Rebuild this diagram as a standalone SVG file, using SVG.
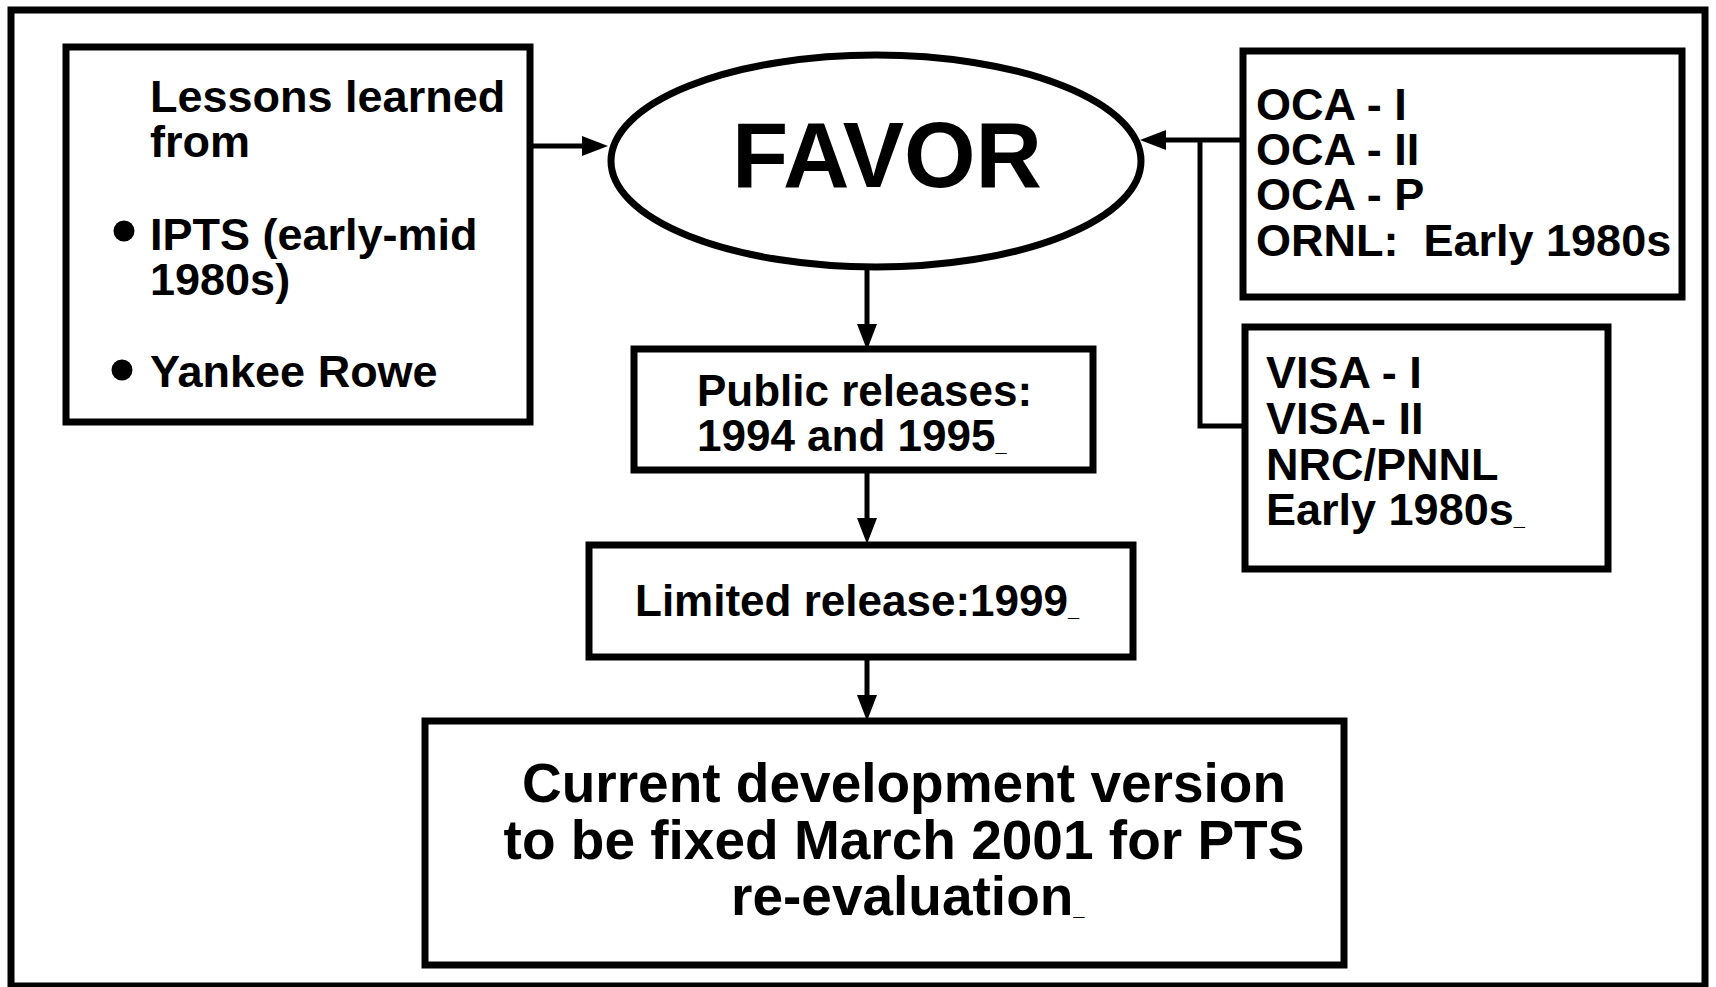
<svg xmlns="http://www.w3.org/2000/svg" width="1716" height="987" viewBox="0 0 1716 987">
<style>
.box{fill:none;stroke:#000;stroke-width:7}
.t{font-family:"Liberation Sans",Arial,Helvetica,sans-serif;font-weight:bold;fill:#000}
.m{font-size:45px}
.c{font-size:44px}
.b{font-size:55px}
.u{font-size:20px}
.con{fill:none;stroke:#000;stroke-width:5}
</style>
<defs>
<marker id="ah" viewBox="0 0 26 20" markerWidth="26" markerHeight="20" refX="13" refY="10" orient="auto" markerUnits="userSpaceOnUse">
<path d="M0,0 L26,10 L0,20 Z" fill="#000"/>
</marker>
</defs>
<rect width="1716" height="987" fill="#fff"/>
<rect x="11" y="10" width="1694" height="976" fill="none" stroke="#000" stroke-width="7"/>

<g id="lessons">
<rect class="box" x="66" y="47" width="464" height="375"/>
<text class="t m" x="150" y="112">Lessons learned</text>
<text class="t m" x="150" y="157">from</text>
<circle cx="124" cy="231" r="10.5"/>
<text class="t m" x="150" y="250">IPTS (early-mid</text>
<text class="t m" x="150" y="295">1980s)</text>
<circle cx="122" cy="370" r="10.5"/>
<text class="t m" x="150" y="387">Yankee Rowe</text>
</g>

<g id="favor">
<ellipse cx="876" cy="161" rx="265" ry="106" fill="none" stroke="#000" stroke-width="7"/>
<text class="t" x="887" y="187" font-size="92" text-anchor="middle">FAVOR</text>
</g>

<g id="public">
<rect class="box" x="634" y="349" width="459" height="121"/>
<text class="t c" x="697" y="406">Public releases:</text>
<text class="t c" x="697" y="451">1994 and 1995<tspan class="u">_</tspan></text>
</g>

<g id="limited">
<rect class="box" x="589" y="545" width="544" height="112"/>
<text class="t c" x="635" y="616">Limited release:1999<tspan class="u">_</tspan></text>
</g>

<g id="current">
<rect class="box" x="425" y="721" width="919" height="244"/>
<text class="t b" x="904" y="802" text-anchor="middle">Current development version</text>
<text class="t b" x="904" y="859" text-anchor="middle">to be fixed March 2001 for PTS</text>
<text class="t b" x="731" y="915">re-evaluation<tspan class="u">_</tspan></text>
</g>

<g id="oca">
<rect class="box" x="1243" y="51" width="439" height="246"/>
<text class="t m" x="1256" y="120">OCA - I</text>
<text class="t m" x="1256" y="165">OCA - II</text>
<text class="t m" x="1256" y="210">OCA - P</text>
<text class="t m" x="1256" y="256" xml:space="preserve">ORNL:  Early 1980s</text>
</g>

<g id="visa">
<rect class="box" x="1245" y="327" width="363" height="242"/>
<text class="t m" x="1266" y="388">VISA - I</text>
<text class="t m" x="1266" y="434">VISA- II</text>
<text class="t m" x="1266" y="480">NRC/PNNL</text>
<text class="t m" x="1266" y="525">Early 1980s<tspan class="u">_</tspan></text>
</g>

<g id="connectors">
<path class="con" d="M533,146 L595,146" marker-end="url(#ah)"/>
<path class="con" d="M1242,140 L1153,140" marker-end="url(#ah)"/>
<path class="con" d="M1245,426 L1200,426 L1200,140"/>
<path class="con" d="M867,270 L867,337" marker-end="url(#ah)"/>
<path class="con" d="M867,472 L867,531" marker-end="url(#ah)"/>
<path class="con" d="M867,659 L867,708" marker-end="url(#ah)"/>
</g>
</svg>
